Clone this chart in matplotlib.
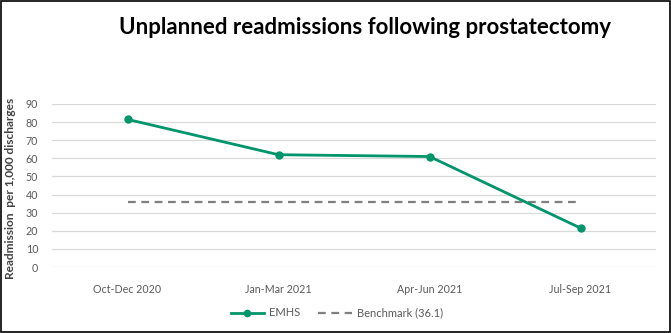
import matplotlib
matplotlib.use("Agg")
import matplotlib.pyplot as plt
from matplotlib.patches import Rectangle

categories = ["Oct-Dec 2020", "Jan-Mar 2021", "Apr-Jun 2021", "Jul-Sep 2021"]
emhs = [81.5, 62.0, 61.0, 21.5]
benchmark = [36.1, 36.1, 36.1, 36.1]
yticks = [0, 10, 20, 30, 40, 50, 60, 70, 80, 90]

plt.rcParams['font.family'] = ['Lato', 'DejaVu Sans']

fig = plt.figure(figsize=(6.71, 3.33), dpi=100)
ax = fig.add_axes([52/671, 66/333, 604/671, 163/333])

x = list(range(len(categories)))
green = '#00956A'
ax.plot(x, emhs, color=green, lw=2, marker='o', ms=5, label='EMHS', clip_on=False, zorder=3)
ax.plot(x, benchmark, color='#7f7f7f', lw=1.6, ls=(0, (3.5, 2.5)), label='Benchmark (36.1)', zorder=2)

ax.set_xlim(-0.5, 3.5)
ax.set_ylim(0, 90)
ax.set_yticks(yticks)
ax.set_xticks(x)
ax.set_xticklabels(categories)
ax.grid(axis='y', color='#d9d9d9', lw=0.9)
ax.set_axisbelow(True)
for s in ax.spines.values():
    s.set_visible(False)
ax.tick_params(length=0, labelsize=7.7, colors='#595959')
ax.tick_params(axis='y', pad=10)
ax.tick_params(axis='x', pad=12)

fig.text(11/671, 1 - 188/333, "Readmission  per 1,000 discharges", rotation=90,
         ha='center', va='center', fontsize=8.6, fontweight='bold', color='#404040')
fig.text(365/671, 1 - 27/333, "Unplanned readmissions following prostatectomy",
         ha='center', va='center', fontsize=16, fontweight='bold', color='black')

leg = fig.legend(loc='center', bbox_to_anchor=(337/671, 1 - 313/333), ncol=2, frameon=False,
                 fontsize=8, handlelength=3.0, columnspacing=1.6, handletextpad=0.5,
                 markerscale=0.9)
for t in leg.get_texts():
    t.set_color('#595959')

fig.patches.append(Rectangle((0.001, 0.002), 0.997, 0.995, transform=fig.transFigure,
                             fill=False, edgecolor='black', lw=1.2))

fig.savefig('out.png', dpi=100)
